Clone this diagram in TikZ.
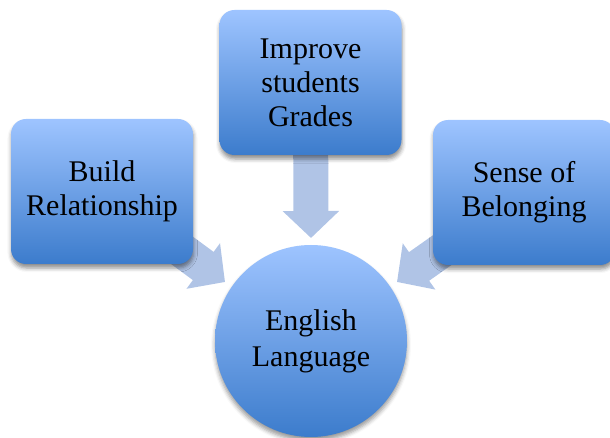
\documentclass[tikz,border=0pt]{standalone}
\usepackage{fontspec}
\setmainfont{Liberation Serif}
\usetikzlibrary{arrows.meta,shadows,shadows.blur}
\definecolor{gtop}{RGB}{158,196,255}
\definecolor{gbot}{RGB}{60,124,204}
\definecolor{arr}{RGB}{176,196,230}
\tikzset{
  box/.style={rounded corners=15pt, minimum width=182pt, minimum height=145pt,
    top color=gtop, bottom color=gbot, draw=none, align=center,
    font=\fontsize{30}{34}\selectfont,
    blur shadow={shadow xshift=0.5pt, shadow yshift=-4pt, shadow blur radius=4pt, shadow opacity=45}},
  hub/.style={circle, minimum size=192pt, inner sep=0pt,
    top color=gtop, bottom color=gbot, draw=none, align=center,
    font=\fontsize{30}{36}\selectfont,
    blur shadow={shadow xshift=0pt, shadow yshift=-4pt, shadow blur radius=4pt, shadow opacity=40}},
  blockarrow/.style={draw=arr, line width=35pt,
    -{Triangle[width=55pt,length=27pt,fill=arr]}},
}
\begin{document}
\begin{tikzpicture}[x=1pt,y=-1pt]
\useasboundingbox (0,0) rectangle (610,438);
\coordinate (tl) at (225,282);
\coordinate (tt) at (311,238);
\coordinate (tr) at (397,282);
\coordinate (cl) at (102,191.5);
\coordinate (ct) at (310.5,82.5);
\coordinate (cr) at (524,192.5);
\draw[blockarrow] (cl) -- (tl);
\draw[blockarrow] (ct) -- (tt);
\draw[blockarrow] (cr) -- (tr);
\node[box] (lb) at (cl) {Build\\Relationship};
\node[box] (tb) at (ct) {Improve\\students\\Grades};
\node[box] (rb) at (cr) {Sense of\\Belonging};
\node[hub] (hub) at (311,341) {English\\Language};
\end{tikzpicture}
\end{document}
